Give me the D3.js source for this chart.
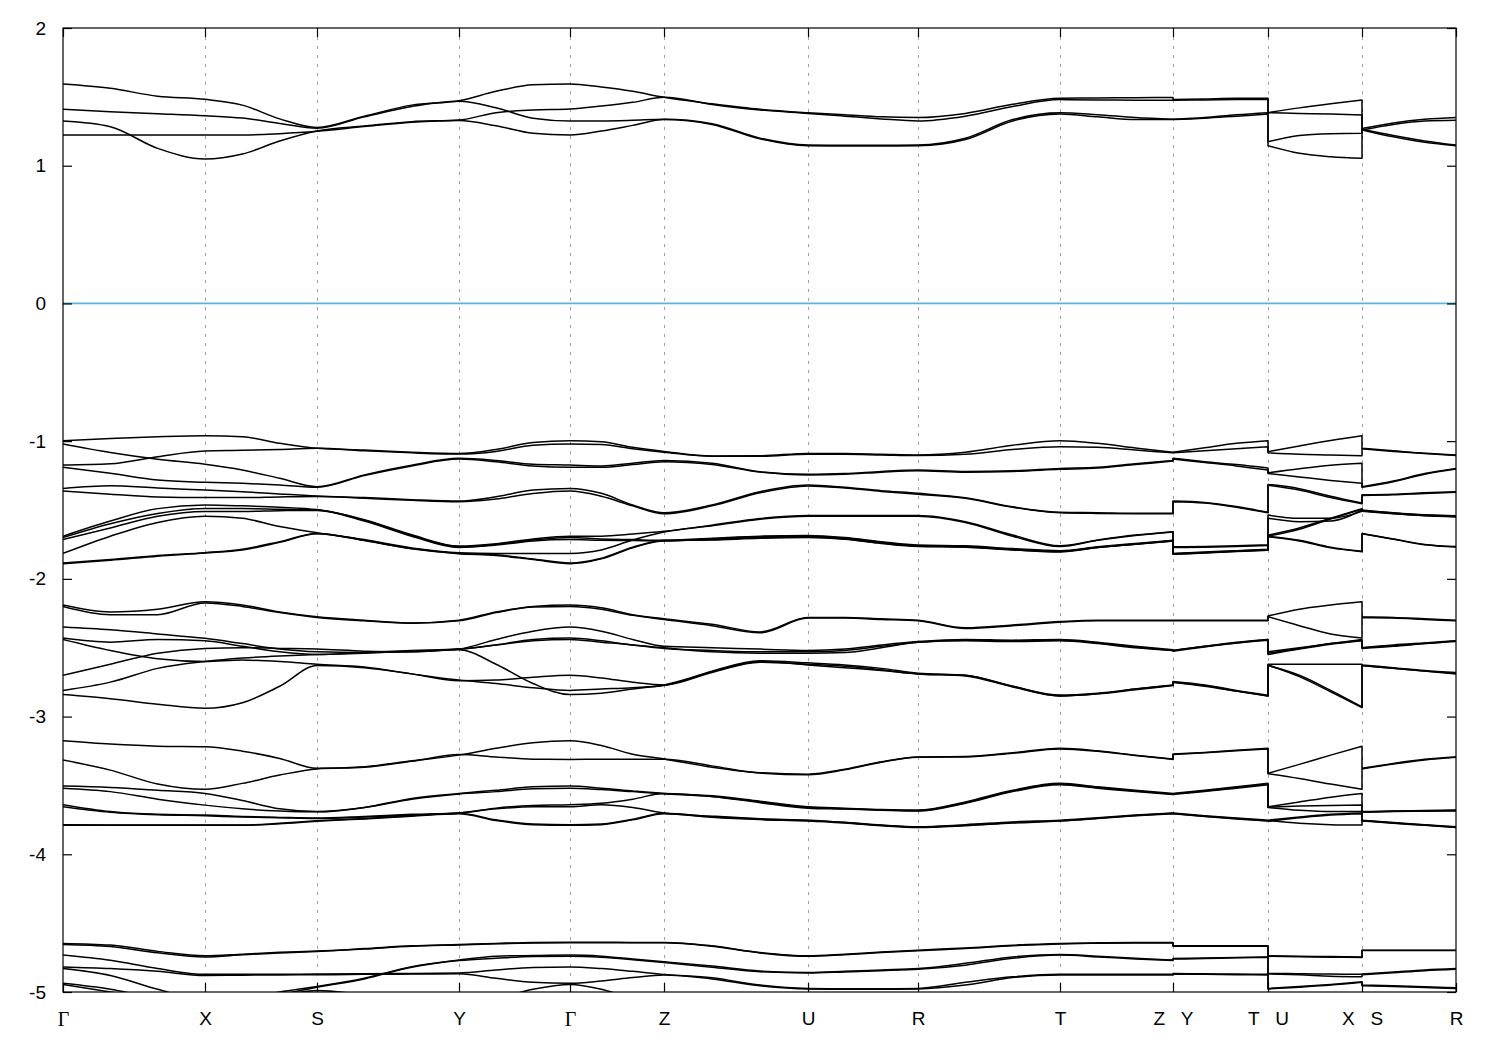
<!DOCTYPE html>
<html><head><meta charset="utf-8">
<script src="https://cdn.jsdelivr.net/npm/d3@7"></script>
<style>body{margin:0;background:#fff}</style>
</head><body>
<svg id="chart" width="1500" height="1050"></svg>
<script>
// k-path distance of the high-symmetry points
const kTicks = [0, 0.142, 0.254, 0.396, 0.507, 0.601, 0.745, 0.855, 0.997, 1.110, 1.205, 1.299, 1.393];
const tickLabels = ["Γ", "X", "S", "Y", "Γ", "Z", "U", "R", "T", "Z   Y", "T   U", "X   S", "R"];
const yTicks = [-5, -4, -3, -2, -1, 0, 1, 2];
// continuous path sections (indices into kTicks); each segment is sampled at thirds
const sections = [[0, 9], [9, 10], [10, 11], [11, 12]];

// conduction bands (eV), 40 samples each
const condBands = [
 [1.593,1.562,1.505,1.482,1.44,1.34,1.278,1.36,1.44,1.472,1.54,1.588,1.593,1.571,1.54,1.497,1.45,1.41,1.385,1.37,1.355,1.35,1.38,1.446,1.49,1.492,1.494,1.495,1.48,1.485,1.49,1.49,1.385,1.42,1.45,1.477,1.27,1.31,1.337,1.35],
 [1.411,1.392,1.378,1.363,1.346,1.307,1.272,1.355,1.43,1.468,1.421,1.344,1.324,1.325,1.33,1.337,1.305,1.2,1.15,1.148,1.148,1.15,1.2,1.335,1.385,1.37,1.35,1.337,1.337,1.35,1.37,1.385,1.174,1.22,1.232,1.235,1.265,1.22,1.18,1.15],
 [1.324,1.283,1.126,1.049,1.085,1.179,1.252,1.288,1.32,1.332,1.385,1.404,1.411,1.433,1.46,1.497,1.445,1.405,1.38,1.36,1.34,1.325,1.36,1.43,1.48,1.478,1.476,1.475,1.475,1.478,1.48,1.482,1.385,1.38,1.375,1.368,1.26,1.30,1.325,1.33],
 [1.223,1.223,1.223,1.223,1.223,1.233,1.25,1.284,1.315,1.328,1.29,1.235,1.223,1.252,1.293,1.335,1.30,1.195,1.145,1.143,1.143,1.145,1.19,1.325,1.375,1.355,1.335,1.335,1.335,1.345,1.36,1.375,1.145,1.09,1.065,1.054,1.26,1.21,1.17,1.145]
];
// valence bands, -1 .. -1.9 eV
const valBandsA = [
 [-0.997,-0.98,-0.968,-0.961,-0.968,-1.016,-1.052,-1.065,-1.08,-1.089,-1.06,-1.01,-0.997,-1.005,-1.045,-1.075,-1.108,-1.106,-1.089,-1.09,-1.095,-1.1,-1.08,-1.03,-0.997,-1.016,-1.05,-1.08,-1.08,-1.048,-1.016,-0.997,-1.077,-1.035,-0.995,-0.961,-1.052,-1.07,-1.088,-1.1],
 [-1.174,-1.165,-1.113,-1.072,-1.067,-1.06,-1.052,-1.07,-1.085,-1.094,-1.075,-1.03,-1.021,-1.025,-1.055,-1.08,-1.11,-1.11,-1.095,-1.095,-1.1,-1.105,-1.095,-1.06,-1.04,-1.045,-1.065,-1.085,-1.085,-1.07,-1.055,-1.04,-1.085,-1.095,-1.1,-1.106,-1.056,-1.075,-1.09,-1.105],
 [-1.021,-1.083,-1.132,-1.168,-1.21,-1.27,-1.331,-1.245,-1.175,-1.125,-1.14,-1.168,-1.174,-1.18,-1.16,-1.14,-1.16,-1.222,-1.241,-1.235,-1.22,-1.21,-1.22,-1.215,-1.198,-1.19,-1.165,-1.14,-1.125,-1.15,-1.17,-1.195,-1.23,-1.2,-1.175,-1.161,-1.331,-1.29,-1.235,-1.198],
 [-1.19,-1.234,-1.283,-1.299,-1.306,-1.318,-1.335,-1.25,-1.18,-1.13,-1.15,-1.18,-1.19,-1.19,-1.17,-1.15,-1.17,-1.225,-1.245,-1.24,-1.225,-1.215,-1.225,-1.22,-1.205,-1.195,-1.17,-1.145,-1.13,-1.155,-1.18,-1.21,-1.235,-1.26,-1.285,-1.306,-1.335,-1.295,-1.24,-1.203],
 [-1.343,-1.323,-1.34,-1.355,-1.367,-1.384,-1.399,-1.41,-1.425,-1.435,-1.404,-1.355,-1.343,-1.379,-1.464,-1.52,-1.464,-1.367,-1.319,-1.335,-1.36,-1.379,-1.411,-1.477,-1.517,-1.52,-1.524,-1.524,-1.435,-1.445,-1.475,-1.517,-1.314,-1.345,-1.4,-1.45,-1.39,-1.385,-1.375,-1.367],
 [-1.362,-1.385,-1.405,-1.41,-1.41,-1.405,-1.402,-1.415,-1.43,-1.44,-1.42,-1.38,-1.362,-1.40,-1.47,-1.528,-1.47,-1.375,-1.325,-1.34,-1.365,-1.385,-1.415,-1.48,-1.52,-1.525,-1.527,-1.528,-1.44,-1.45,-1.48,-1.52,-1.32,-1.355,-1.41,-1.455,-1.395,-1.39,-1.38,-1.372],
 [-1.69,-1.58,-1.49,-1.464,-1.47,-1.48,-1.497,-1.57,-1.68,-1.762,-1.745,-1.71,-1.69,-1.69,-1.675,-1.655,-1.61,-1.562,-1.54,-1.54,-1.54,-1.54,-1.585,-1.682,-1.76,-1.718,-1.682,-1.657,-1.767,-1.765,-1.76,-1.752,-1.537,-1.56,-1.56,-1.51,-1.5,-1.52,-1.535,-1.542],
 [-1.70,-1.60,-1.525,-1.49,-1.49,-1.495,-1.5,-1.575,-1.685,-1.767,-1.75,-1.718,-1.70,-1.71,-1.715,-1.72,-1.705,-1.69,-1.685,-1.70,-1.73,-1.755,-1.76,-1.78,-1.795,-1.767,-1.743,-1.72,-1.815,-1.805,-1.795,-1.785,-1.682,-1.63,-1.56,-1.49,-1.503,-1.522,-1.537,-1.545],
 [-1.715,-1.63,-1.545,-1.51,-1.51,-1.505,-1.503,-1.58,-1.69,-1.772,-1.755,-1.725,-1.715,-1.72,-1.722,-1.725,-1.71,-1.695,-1.69,-1.705,-1.735,-1.76,-1.765,-1.785,-1.80,-1.772,-1.748,-1.725,-1.82,-1.81,-1.80,-1.79,-1.69,-1.64,-1.565,-1.495,-1.506,-1.525,-1.54,-1.548],
 [-1.815,-1.69,-1.59,-1.545,-1.56,-1.62,-1.665,-1.715,-1.775,-1.81,-1.815,-1.815,-1.815,-1.79,-1.718,-1.66,-1.615,-1.567,-1.545,-1.545,-1.545,-1.545,-1.59,-1.69,-1.765,-1.72,-1.685,-1.66,-1.772,-1.77,-1.765,-1.757,-1.56,-1.585,-1.58,-1.5,-1.51,-1.528,-1.542,-1.55],
 [-1.885,-1.86,-1.83,-1.81,-1.785,-1.73,-1.67,-1.72,-1.78,-1.815,-1.825,-1.855,-1.885,-1.85,-1.77,-1.72,-1.715,-1.70,-1.695,-1.71,-1.74,-1.762,-1.768,-1.788,-1.802,-1.77,-1.746,-1.722,-1.818,-1.808,-1.798,-1.788,-1.69,-1.72,-1.77,-1.80,-1.67,-1.71,-1.75,-1.765],
 [-1.89,-1.865,-1.835,-1.812,-1.79,-1.735,-1.672,-1.722,-1.782,-1.818,-1.83,-1.86,-1.89,-1.855,-1.775,-1.723,-1.718,-1.705,-1.70,-1.713,-1.743,-1.765,-1.77,-1.79,-1.805,-1.773,-1.749,-1.725,-1.822,-1.812,-1.802,-1.792,-1.695,-1.725,-1.775,-1.803,-1.673,-1.712,-1.752,-1.768]
];
// valence bands, -2.2 .. -2.9 eV
const valBandsB = [
 [-2.19,-2.24,-2.22,-2.166,-2.19,-2.24,-2.275,-2.30,-2.32,-2.30,-2.24,-2.20,-2.19,-2.21,-2.26,-2.29,-2.33,-2.385,-2.28,-2.28,-2.29,-2.30,-2.355,-2.335,-2.31,-2.30,-2.30,-2.30,-2.30,-2.30,-2.30,-2.30,-2.27,-2.22,-2.19,-2.166,-2.275,-2.28,-2.29,-2.30],
 [-2.20,-2.26,-2.26,-2.175,-2.20,-2.245,-2.28,-2.305,-2.322,-2.305,-2.245,-2.205,-2.20,-2.22,-2.265,-2.295,-2.34,-2.392,-2.285,-2.285,-2.295,-2.305,-2.36,-2.34,-2.315,-2.305,-2.305,-2.305,-2.305,-2.305,-2.305,-2.305,-2.275,-2.34,-2.40,-2.43,-2.28,-2.285,-2.295,-2.305],
 [-2.35,-2.37,-2.40,-2.432,-2.47,-2.51,-2.53,-2.535,-2.53,-2.51,-2.44,-2.38,-2.35,-2.38,-2.44,-2.49,-2.50,-2.51,-2.52,-2.51,-2.48,-2.455,-2.44,-2.445,-2.44,-2.46,-2.49,-2.515,-2.52,-2.49,-2.46,-2.44,-2.53,-2.50,-2.47,-2.44,-2.50,-2.48,-2.465,-2.45],
 [-2.43,-2.46,-2.44,-2.45,-2.49,-2.53,-2.55,-2.535,-2.52,-2.51,-2.48,-2.44,-2.43,-2.45,-2.48,-2.50,-2.53,-2.54,-2.54,-2.535,-2.50,-2.46,-2.45,-2.455,-2.45,-2.47,-2.50,-2.52,-2.525,-2.495,-2.465,-2.445,-2.55,-2.51,-2.475,-2.45,-2.505,-2.49,-2.47,-2.455],
 [-2.44,-2.52,-2.58,-2.60,-2.59,-2.60,-2.62,-2.64,-2.69,-2.735,-2.76,-2.79,-2.81,-2.80,-2.79,-2.775,-2.67,-2.595,-2.61,-2.625,-2.65,-2.685,-2.70,-2.78,-2.844,-2.83,-2.80,-2.77,-2.745,-2.77,-2.81,-2.845,-2.62,-2.62,-2.62,-2.62,-2.625,-2.645,-2.665,-2.68],
 [-2.70,-2.62,-2.54,-2.505,-2.50,-2.505,-2.51,-2.525,-2.53,-2.515,-2.62,-2.76,-2.84,-2.83,-2.80,-2.77,-2.675,-2.60,-2.625,-2.645,-2.665,-2.69,-2.705,-2.785,-2.85,-2.835,-2.805,-2.775,-2.75,-2.775,-2.815,-2.85,-2.63,-2.70,-2.81,-2.93,-2.63,-2.65,-2.67,-2.685],
 [-2.81,-2.75,-2.65,-2.60,-2.575,-2.56,-2.55,-2.54,-2.525,-2.51,-2.48,-2.45,-2.44,-2.46,-2.48,-2.505,-2.52,-2.53,-2.53,-2.52,-2.49,-2.46,-2.445,-2.45,-2.445,-2.465,-2.495,-2.52,-2.52,-2.49,-2.465,-2.44,-2.54,-2.505,-2.47,-2.445,-2.50,-2.485,-2.47,-2.45],
 [-2.84,-2.87,-2.91,-2.94,-2.90,-2.78,-2.63,-2.645,-2.69,-2.74,-2.735,-2.715,-2.70,-2.72,-2.75,-2.77,-2.68,-2.605,-2.62,-2.635,-2.66,-2.69,-2.70,-2.78,-2.85,-2.835,-2.80,-2.772,-2.75,-2.78,-2.815,-2.85,-2.625,-2.71,-2.82,-2.935,-2.63,-2.65,-2.67,-2.69]
];
// valence bands, -3.2 .. -3.8 eV
const valBandsC = [
 [-3.176,-3.20,-3.215,-3.219,-3.251,-3.304,-3.376,-3.364,-3.321,-3.28,-3.23,-3.19,-3.176,-3.21,-3.273,-3.308,-3.368,-3.408,-3.418,-3.383,-3.328,-3.293,-3.29,-3.263,-3.23,-3.249,-3.28,-3.308,-3.272,-3.26,-3.245,-3.23,-3.412,-3.347,-3.28,-3.215,-3.376,-3.34,-3.31,-3.293],
 [-3.316,-3.389,-3.49,-3.528,-3.485,-3.425,-3.38,-3.368,-3.325,-3.275,-3.293,-3.31,-3.311,-3.31,-3.31,-3.31,-3.358,-3.41,-3.422,-3.386,-3.331,-3.296,-3.293,-3.266,-3.235,-3.252,-3.283,-3.311,-3.275,-3.263,-3.248,-3.235,-3.415,-3.45,-3.49,-3.528,-3.38,-3.345,-3.315,-3.296],
 [-3.505,-3.515,-3.535,-3.558,-3.61,-3.67,-3.69,-3.66,-3.594,-3.558,-3.535,-3.51,-3.505,-3.52,-3.54,-3.558,-3.575,-3.615,-3.655,-3.665,-3.675,-3.679,-3.62,-3.535,-3.485,-3.51,-3.535,-3.558,-3.558,-3.535,-3.51,-3.485,-3.655,-3.62,-3.585,-3.558,-3.69,-3.685,-3.682,-3.679],
 [-3.52,-3.545,-3.60,-3.643,-3.67,-3.685,-3.692,-3.66,-3.60,-3.562,-3.545,-3.525,-3.52,-3.53,-3.545,-3.56,-3.58,-3.62,-3.66,-3.67,-3.678,-3.683,-3.625,-3.54,-3.49,-3.515,-3.54,-3.562,-3.562,-3.54,-3.515,-3.49,-3.658,-3.65,-3.645,-3.643,-3.692,-3.688,-3.685,-3.682],
 [-3.64,-3.69,-3.71,-3.715,-3.725,-3.732,-3.737,-3.725,-3.71,-3.70,-3.665,-3.645,-3.64,-3.63,-3.60,-3.558,-3.58,-3.625,-3.665,-3.672,-3.68,-3.686,-3.63,-3.545,-3.495,-3.52,-3.545,-3.565,-3.565,-3.545,-3.52,-3.495,-3.66,-3.68,-3.69,-3.69,-3.695,-3.69,-3.687,-3.685],
 [-3.655,-3.695,-3.713,-3.72,-3.73,-3.735,-3.74,-3.73,-3.715,-3.70,-3.67,-3.655,-3.655,-3.64,-3.66,-3.70,-3.723,-3.742,-3.752,-3.768,-3.788,-3.80,-3.785,-3.765,-3.752,-3.735,-3.715,-3.70,-3.70,-3.72,-3.737,-3.752,-3.752,-3.73,-3.71,-3.70,-3.752,-3.77,-3.785,-3.80],
 [-3.785,-3.787,-3.788,-3.788,-3.788,-3.775,-3.757,-3.74,-3.72,-3.702,-3.75,-3.78,-3.785,-3.78,-3.745,-3.702,-3.728,-3.745,-3.755,-3.77,-3.79,-3.803,-3.79,-3.77,-3.756,-3.738,-3.718,-3.702,-3.703,-3.723,-3.74,-3.756,-3.756,-3.775,-3.785,-3.788,-3.755,-3.772,-3.788,-3.803],
 [-3.79,-3.79,-3.79,-3.79,-3.79,-3.778,-3.76,-3.743,-3.723,-3.705,-3.755,-3.785,-3.79,-3.785,-3.75,-3.705,-3.731,-3.748,-3.758,-3.773,-3.793,-3.806,-3.793,-3.773,-3.759,-3.741,-3.721,-3.705,-3.706,-3.726,-3.743,-3.759,-3.759,-3.735,-3.715,-3.705,-3.758,-3.775,-3.79,-3.806]
];
// valence bands, -4.6 .. -5 eV
const valBandsD = [
 [-4.647,-4.659,-4.705,-4.737,-4.725,-4.712,-4.703,-4.685,-4.665,-4.655,-4.647,-4.64,-4.638,-4.638,-4.64,-4.64,-4.665,-4.713,-4.737,-4.725,-4.71,-4.696,-4.68,-4.66,-4.647,-4.643,-4.641,-4.64,-4.665,-4.665,-4.665,-4.665,-4.737,-4.74,-4.743,-4.746,-4.696,-4.696,-4.696,-4.696],
 [-4.655,-4.67,-4.715,-4.745,-4.73,-4.716,-4.706,-4.688,-4.668,-4.658,-4.65,-4.644,-4.642,-4.642,-4.643,-4.643,-4.668,-4.716,-4.741,-4.729,-4.714,-4.70,-4.684,-4.664,-4.651,-4.646,-4.644,-4.643,-4.668,-4.668,-4.668,-4.668,-4.741,-4.744,-4.747,-4.75,-4.699,-4.699,-4.699,-4.699],
 [-4.732,-4.77,-4.83,-4.872,-4.872,-4.871,-4.87,-4.868,-4.865,-4.862,-4.84,-4.822,-4.818,-4.83,-4.85,-4.872,-4.897,-4.95,-4.974,-4.976,-4.976,-4.974,-4.93,-4.89,-4.872,-4.872,-4.872,-4.872,-4.865,-4.868,-4.87,-4.872,-4.974,-4.96,-4.945,-4.926,-4.95,-4.955,-4.962,-4.97],
 [-4.818,-4.83,-4.85,-4.88,-4.878,-4.876,-4.875,-4.872,-4.87,-4.868,-4.9,-4.93,-4.937,-4.92,-4.895,-4.876,-4.905,-4.955,-4.978,-4.98,-4.98,-4.978,-4.95,-4.895,-4.876,-4.876,-4.876,-4.876,-4.87,-4.872,-4.874,-4.876,-4.978,-4.965,-4.95,-4.93,-4.955,-4.96,-4.967,-4.975],
 [-4.83,-4.88,-4.98,-5.06,-5.05,-5.0,-4.96,-4.90,-4.817,-4.768,-4.74,-4.735,-4.732,-4.74,-4.76,-4.78,-4.812,-4.848,-4.858,-4.85,-4.84,-4.83,-4.792,-4.745,-4.727,-4.74,-4.755,-4.768,-4.757,-4.753,-4.749,-4.745,-4.865,-4.867,-4.87,-4.872,-4.87,-4.855,-4.84,-4.83],
 [-4.937,-4.98,-5.05,-5.1,-5.08,-5.02,-4.965,-4.905,-4.82,-4.772,-4.755,-4.742,-4.74,-4.748,-4.765,-4.785,-4.82,-4.853,-4.862,-4.854,-4.845,-4.835,-4.805,-4.755,-4.732,-4.745,-4.76,-4.772,-4.761,-4.757,-4.752,-4.748,-4.868,-4.875,-4.885,-4.89,-4.875,-4.86,-4.845,-4.835],
 [-4.945,-5.0,-5.06,-5.1,-5.08,-5.03,-4.99,-5.02,-5.06,-5.08,-5.05,-4.98,-4.945,-4.98,-5.05,-5.1,-5.1,-5.1,-5.1,-5.1,-5.1,-5.1,-5.1,-5.1,-5.1,-5.1,-5.1,-5.1,-5.1,-5.1,-5.1,-5.1,-5.1,-5.1,-5.1,-5.1,-5.1,-5.1,-5.1,-5.1]
];

// ---- sampling grid (k positions at thirds of every segment) ----
const kGrid = [], secIdx = [];
sections.forEach(([a, b]) => {
  const idx = [];
  for (let s = a; s < b; s++) for (let j = 0; j < 3; j++) {
    idx.push(kGrid.length); kGrid.push(kTicks[s] + (kTicks[s + 1] - kTicks[s]) * j / 3);
  }
  idx.push(kGrid.length); kGrid.push(kTicks[b]);
  secIdx.push(idx);
});

const L = 63, R = 1456, T = 28, B = 992;
const svg = d3.select("#chart");
const x = d3.scaleLinear().domain([kTicks[0], kTicks[kTicks.length - 1]]).range([L, R]);
const y = d3.scaleLinear().domain([-5, 2]).range([B, T]);
const font = "'Liberation Sans', Arial, sans-serif";

svg.append("defs").append("clipPath").attr("id", "clip")
  .append("rect").attr("x", L).attr("y", T).attr("width", R - L).attr("height", B - T);

// vertical grid lines at the interior high-symmetry points
svg.append("g").selectAll("line").data(kTicks.slice(1, -1)).join("line")
  .attr("x1", d => Math.round(x(d)) + 0.5).attr("x2", d => Math.round(x(d)) + 0.5).attr("y1", T).attr("y2", B)
  .attr("stroke", "#a0a0a0").attr("stroke-width", 1).attr("stroke-dasharray", "3,6");

// Fermi level
svg.append("line").attr("x1", L).attr("x2", R).attr("y1", y(0)).attr("y2", y(0))
  .attr("stroke", "#56b4e9").attr("stroke-width", 1.8);

const lineGen = d3.line().x(d => x(d[0])).y(d => y(d[1])).curve(d3.curveMonotoneX);
function bandPath(vals) {
  return secIdx.map((idx, si) => {
    const p = lineGen(idx.map(i => [kGrid[i], vals[i]]));
    return si === 0 ? p : "L" + p.slice(1);
  }).join("");
}
const allBands = [...condBands, ...valBandsA, ...valBandsB, ...valBandsC, ...valBandsD];
svg.append("g").attr("clip-path", "url(#clip)").selectAll("path").data(allBands).join("path")
  .attr("d", bandPath).attr("fill", "none").attr("stroke", "#000").attr("stroke-width", 1.5)
  .attr("stroke-linejoin", "round");

// frame
svg.append("rect").attr("x", L).attr("y", T).attr("width", R - L).attr("height", B - T)
  .attr("fill", "none").attr("stroke", "#000").attr("stroke-width", 1.2);

// axes
const fmt = d => String(d);
svg.append("g").attr("transform", `translate(${L},0)`)
  .call(d3.axisLeft(y).tickValues(yTicks).tickSizeInner(-9).tickSizeOuter(0).tickPadding(17).tickFormat(fmt));
svg.append("g").attr("transform", `translate(${R},0)`)
  .call(d3.axisRight(y).tickValues(yTicks).tickSizeInner(-9).tickSizeOuter(0).tickFormat(""));
const gb = svg.append("g").attr("transform", `translate(0,${B})`)
  .call(d3.axisBottom(x).tickValues(kTicks).tickSizeInner(-9).tickSizeOuter(0).tickPadding(20).tickFormat((d, i) => tickLabels[i]));
svg.append("g").attr("transform", `translate(0,${T})`)
  .call(d3.axisTop(x).tickValues(kTicks).tickSizeInner(-9).tickSizeOuter(0).tickFormat(""));
svg.selectAll(".domain").remove();
svg.selectAll(".tick line").attr("stroke", "#000").attr("stroke-width", 1.2);
svg.selectAll(".tick text").attr("fill", "#000").style("font-family", font).style("font-size", "19px")
  .style("white-space", "pre");
gb.selectAll(".tick text").filter((d, i) => tickLabels[i] === "Γ")
  .style("font-family", "'Liberation Serif', 'Times New Roman', serif").style("font-size", "20px");
</script>
</body></html>
